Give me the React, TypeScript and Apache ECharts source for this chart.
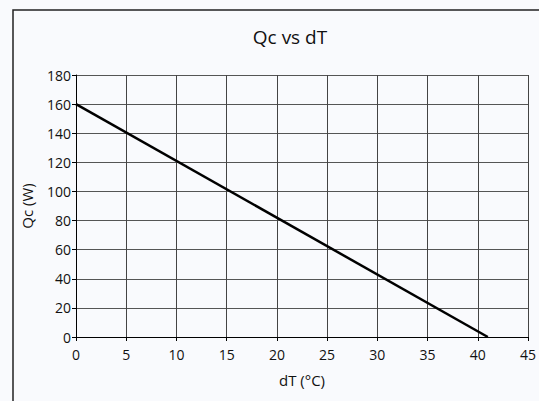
import React, { useEffect, useRef } from "react";
import * as echarts from "echarts";

const titleText = "Qc vs dT";
const xName = "dT (°C)";
const yName = "Qc (W)";
const dT = [0, 41];
const qc = [160, 0];

export default function App() {
  const ref = useRef<HTMLDivElement>(null);
  useEffect(() => {
    document.body.style.margin = "0";
    const chart = echarts.init(ref.current!, null, { renderer: "svg" });
    const font = "'Open Sans', 'Noto Sans', sans-serif";
    chart.setOption({
      animation: false,
      backgroundColor: "#f9fafd",
      title: {
        text: titleText,
        left: 285,
        textAlign: "center",
        top: 22,
        textStyle: { fontFamily: font, fontSize: 19, fontWeight: "normal", color: "#111" },
      },
      graphic: [
        {
          type: "rect",
          shape: { x: 13, y: 10, width: 540, height: 400 },
          style: { fill: "none", stroke: "#222", lineWidth: 1.5 },
          z: 0,
        },
      ],
      grid: { left: 76, right: 9, top: 75, bottom: 64 },
      xAxis: {
        type: "value",
        min: 0,
        max: 45,
        interval: 5,
        name: xName,
        nameLocation: "middle",
        nameGap: 35,
        nameTextStyle: { fontFamily: font, fontSize: 15, color: "#111" },
        axisLine: { show: true, lineStyle: { color: "#000", width: 1 } },
        axisTick: { show: true, length: 4, lineStyle: { color: "#000" } },
        axisLabel: { margin: 10, fontFamily: font, fontSize: 14, color: "#111" },
        splitLine: { show: true, lineStyle: { color: "#444", width: 1 } },
      },
      yAxis: {
        type: "value",
        min: 0,
        max: 180,
        interval: 20,
        name: yName,
        nameLocation: "middle",
        nameGap: 42,
        nameTextStyle: { fontFamily: font, fontSize: 15, color: "#111" },
        axisLine: { show: true, lineStyle: { color: "#000", width: 1 } },
        axisTick: { show: true, length: 4, lineStyle: { color: "#000" } },
        axisLabel: { margin: 5, fontFamily: font, fontSize: 14, color: "#111" },
        splitLine: { show: true, lineStyle: { color: "#555", width: 1 } },
      },
      series: [
        {
          type: "line",
          data: dT.map((x, i) => [x, qc[i]]),
          showSymbol: false,
          lineStyle: { color: "#000", width: 2.5 },
          clip: false,
        },
      ],
    });
    return () => chart.dispose();
  }, []);
  return <div ref={ref} style={{ width: 539, height: 401 }} />;
}
